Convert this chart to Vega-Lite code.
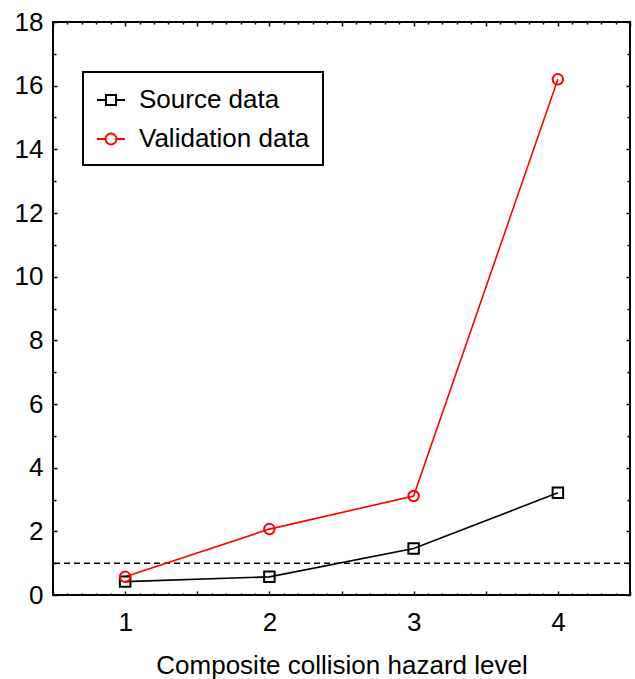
{
  "$schema": "https://vega.github.io/schema/vega-lite/v6.json",
  "autosize": {"type": "none"},
  "width": 577,
  "height": 573,
  "padding": {"left": 53, "top": 22, "right": 5, "bottom": 84},
  "background": "white",
  "datasets": {
    "rates": [
      {"level": 1, "value": 0.42, "series": "Source data"},
      {"level": 2, "value": 0.57, "series": "Source data"},
      {"level": 3, "value": 1.46, "series": "Source data"},
      {"level": 4, "value": 3.21, "series": "Source data"},
      {"level": 1, "value": 0.57, "series": "Validation data"},
      {"level": 2, "value": 2.07, "series": "Validation data"},
      {"level": 3, "value": 3.11, "series": "Validation data"},
      {"level": 4, "value": 16.2, "series": "Validation data"}
    ],
    "threshold": [{"value": 1}]
  },
  "data": {"name": "rates"},
  "config": {
    "view": {"stroke": "black", "strokeWidth": 2},
    "axis": {
      "domain": false,
      "grid": false,
      "tickColor": "black",
      "tickWidth": 1.5,
      "labelColor": "black",
      "labelFont": "Liberation Sans",
      "labelFontSize": 26,
      "labelFlush": false,
      "labelOverlap": false,
      "titleFont": "Liberation Sans",
      "titleFontSize": 26,
      "titleFontWeight": "normal",
      "titleColor": "black"
    },
    "legend": {
      "strokeColor": "black",
      "strokeWidth": 2,
      "fillColor": "white",
      "padding": 13,
      "rowPadding": 11,
      "labelOffset": 13,
      "labelLimit": 400,
      "labelFont": "Liberation Sans",
      "labelFontSize": 26,
      "labelColor": "black",
      "symbolSize": 784,
      "symbolStrokeWidth": 2,
      "symbolFillColor": "transparent",
      "symbolOpacity": 1
    }
  },
  "resolve": {
    "axis": {"x": "independent", "y": "independent"},
    "scale": {"shape": "independent", "color": "independent"}
  },
  "layer": [
    {
      "data": {"name": "threshold"},
      "mark": {"type": "rule", "color": "black", "strokeWidth": 1.5, "strokeDash": [6, 4]},
      "encoding": {
        "y": {"field": "value", "type": "quantitative", "scale": {"domain": [0, 18]}, "axis": null}
      }
    },
    {
      "layer": [
        {
          "mark": {"type": "line", "strokeWidth": 1.6},
          "encoding": {
            "x": {
              "field": "level", "type": "quantitative",
              "scale": {"domain": [0.5, 4.5], "nice": false, "zero": false},
              "axis": {
                "orient": "bottom",
                "values": [0.5, 1, 1.5, 2, 2.5, 3, 3.5, 4, 4.5],
                "tickSize": -4,
                "labelPadding": 18,
                "labelExpr": "datum.value % 1 == 0 ? format(datum.value, 'd') : ''",
                "title": "Composite collision hazard level",
                "titlePadding": 17
              }
            },
            "y": {
              "field": "value", "type": "quantitative",
              "scale": {"domain": [0, 18], "nice": false},
              "axis": {
                "orient": "left",
                "values": [0, 2, 4, 6, 8, 10, 12, 14, 16, 18],
                "tickSize": -4,
                "labelPadding": 14,
                "title": null
              }
            },
            "color": {
              "field": "series", "type": "nominal",
              "scale": {"domain": ["Source data", "Validation data"], "range": ["black", "#ff0000"]},
              "legend": null
            }
          }
        },
        {
          "mark": {"type": "point", "filled": false, "strokeWidth": 2, "opacity": 1},
          "encoding": {
            "x": {
              "field": "level", "type": "quantitative",
              "axis": {
                "orient": "bottom",
                "values": [0.6, 0.7, 0.8, 0.9, 1.1, 1.2, 1.3, 1.4, 1.6, 1.7, 1.8, 1.9, 2.1, 2.2, 2.3, 2.4, 2.6, 2.7, 2.8, 2.9, 3.1, 3.2, 3.3, 3.4, 3.6, 3.7, 3.8, 3.9, 4.1, 4.2, 4.3, 4.4],
                "tickSize": -2,
                "labels": false,
                "title": null
              }
            },
            "y": {
              "field": "value", "type": "quantitative",
              "axis": {
                "orient": "left",
                "values": [1, 3, 5, 7, 9, 11, 13, 15, 17],
                "tickSize": -3,
                "labels": false,
                "title": null
              }
            },
            "color": {"field": "series", "type": "nominal", "legend": null},
            "shape": {
              "field": "series", "type": "nominal",
              "scale": {"domain": ["Source data", "Validation data"], "range": ["square", "circle"]},
              "legend": null
            },
            "size": {"value": 110}
          }
        }
      ],
      "resolve": {"axis": {"x": "independent", "y": "independent"}}
    },
    {
      "mark": {"type": "point", "opacity": 0},
      "encoding": {
        "x": {
          "field": "level", "type": "quantitative",
          "axis": {
            "orient": "top",
            "values": [0.5, 1, 1.5, 2, 2.5, 3, 3.5, 4, 4.5],
            "tickSize": -4,
            "labels": false,
            "title": null
          }
        },
        "y": {
          "field": "value", "type": "quantitative",
          "axis": {
            "orient": "right",
            "values": [0, 2, 4, 6, 8, 10, 12, 14, 16, 18],
            "tickSize": -4,
            "labels": false,
            "title": null
          }
        }
      }
    },
    {
      "mark": {"type": "point", "opacity": 0},
      "encoding": {
        "x": {
          "field": "level", "type": "quantitative",
          "axis": {
            "orient": "top",
            "values": [0.6, 0.7, 0.8, 0.9, 1.1, 1.2, 1.3, 1.4, 1.6, 1.7, 1.8, 1.9, 2.1, 2.2, 2.3, 2.4, 2.6, 2.7, 2.8, 2.9, 3.1, 3.2, 3.3, 3.4, 3.6, 3.7, 3.8, 3.9, 4.1, 4.2, 4.3, 4.4],
            "tickSize": -2,
            "labels": false,
            "title": null
          }
        },
        "y": {
          "field": "value", "type": "quantitative",
          "axis": {
            "orient": "right",
            "values": [1, 3, 5, 7, 9, 11, 13, 15, 17],
            "tickSize": -3,
            "labels": false,
            "title": null
          }
        }
      }
    },
    {
      "transform": [{"filter": "datum.value < 0"}],
      "mark": {"type": "point", "filled": false, "strokeWidth": 2},
      "encoding": {
        "shape": {
          "field": "series", "type": "nominal",
          "scale": {
            "domain": ["Source data", "Validation data"],
            "range": [
              "M-1,0H-0.36M0.36,0H1M-0.36,-0.36H0.36V0.36H-0.36Z",
              "M-1,0H-0.39M0.39,0H1M0.39,0A0.39,0.39,0,1,1,-0.39,0A0.39,0.39,0,1,1,0.39,0Z"
            ]
          },
          "legend": {"title": null, "orient": "none", "legendX": 30, "legendY": 50}
        },
        "color": {
          "field": "series", "type": "nominal",
          "scale": {"domain": ["Source data", "Validation data"], "range": ["black", "#ff0000"]},
          "legend": {"title": null, "orient": "none", "legendX": 30, "legendY": 50}
        }
      }
    }
  ]
}
